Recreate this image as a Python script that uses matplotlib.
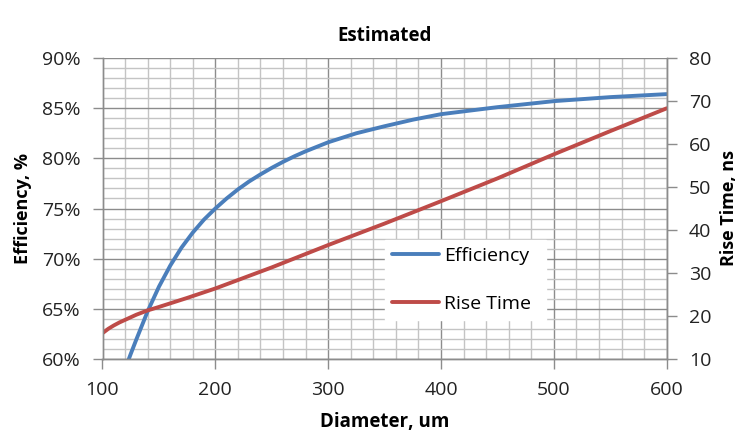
import matplotlib
matplotlib.use('Agg')
import matplotlib.pyplot as plt
import matplotlib.ticker as ticker

plt.rcParams['font.family'] = ['Open Sans', 'DejaVu Sans']

# efficiency curve
eff_diam = [120, 125, 130, 140, 150, 160, 170, 180, 190, 200, 210, 220, 230, 240, 250, 260, 270, 280,
            290, 300, 325, 350, 375, 400, 450, 500, 550, 600]
efficiency = [59.0, 60.5, 61.95, 64.75, 67.2, 69.3, 71.1, 72.6, 73.9, 75.0, 76.0, 76.9, 77.7, 78.4,
              79.05, 79.65, 80.2, 80.7, 81.15, 81.6, 82.5, 83.2, 83.85, 84.4, 85.1, 85.7, 86.1, 86.4]

# rise time curve
rt_diam = [100, 105, 110, 115, 120, 125, 130, 140, 150, 175, 200, 250, 300, 350, 400, 450, 500, 550, 600]
rise_time = [16.0, 17.0, 17.8, 18.5, 19.1, 19.7, 20.3, 21.3, 22.1, 24.2, 26.4, 31.3, 36.5, 41.5,
             46.7, 52.0, 57.6, 63.0, 68.3]

blue = '#4a7ebb'
red = '#be4b48'
tick_fs = 14

fig = plt.figure(figsize=(7.41, 4.32), dpi=100)
ax = fig.add_axes([102.5 / 741, 73 / 432, 564.2 / 741, 301 / 432])
ax2 = ax.twinx()

l1, = ax.plot(eff_diam, efficiency, color=blue, lw=2.8, label='Efficiency', solid_capstyle='round')
l2, = ax2.plot(rt_diam, rise_time, color=red, lw=2.8, label='Rise Time', solid_capstyle='round')

ax.set_xlim(100, 600)
ax.set_ylim(60, 90)
ax2.set_ylim(10, 80)

ax.xaxis.set_major_locator(ticker.MultipleLocator(100))
ax.xaxis.set_minor_locator(ticker.MultipleLocator(20))
ax.yaxis.set_major_locator(ticker.MultipleLocator(5))
ax.yaxis.set_minor_locator(ticker.MultipleLocator(1))
ax.yaxis.set_major_formatter(ticker.FuncFormatter(lambda v, _: f'{v:.0f}%'))
ax2.yaxis.set_major_locator(ticker.MultipleLocator(10))

ax.grid(which='major', color='#8c8c8c', lw=1.0)
ax.grid(which='minor', color='#c4c4c4', lw=1.0)
ax.set_axisbelow(True)

for a in (ax, ax2):
    for s in a.spines.values():
        s.set_color('#8c8c8c')
        s.set_linewidth(1.0)
    a.spines['top'].set_visible(False)
    a.tick_params(which='major', length=7, width=1, color='#8c8c8c', labelsize=tick_fs,
                  labelcolor='#222222', pad=9)
    a.tick_params(which='minor', length=0)

ax.tick_params(axis='x', pad=9)

ax.set_xlabel('Diameter, um', fontsize=13.5, fontweight='bold', labelpad=9)
ax.set_ylabel('Efficiency, %', fontsize=13, fontweight='bold', labelpad=7)
ax2.set_ylabel('Rise Time, ns', fontsize=13, fontweight='bold', labelpad=6)
ax.set_title('Estimated', fontsize=13.5, fontweight='bold', pad=12)

leg = ax2.legend(handles=[l1, l2], loc='lower left', bbox_to_anchor=(385 / 741, 112 / 432, 161 / 741, 80 / 432),
                 bbox_transform=fig.transFigure, mode='expand', frameon=True, fancybox=False,
                 fontsize=tick_fs, handlelength=2.45, handletextpad=0.25, labelspacing=1.55,
                 borderaxespad=0, borderpad=0.35)
leg.get_frame().set_facecolor('white')
leg.get_frame().set_edgecolor('white')
leg.get_frame().set_alpha(1)

fig.savefig('out.png', dpi=100)
